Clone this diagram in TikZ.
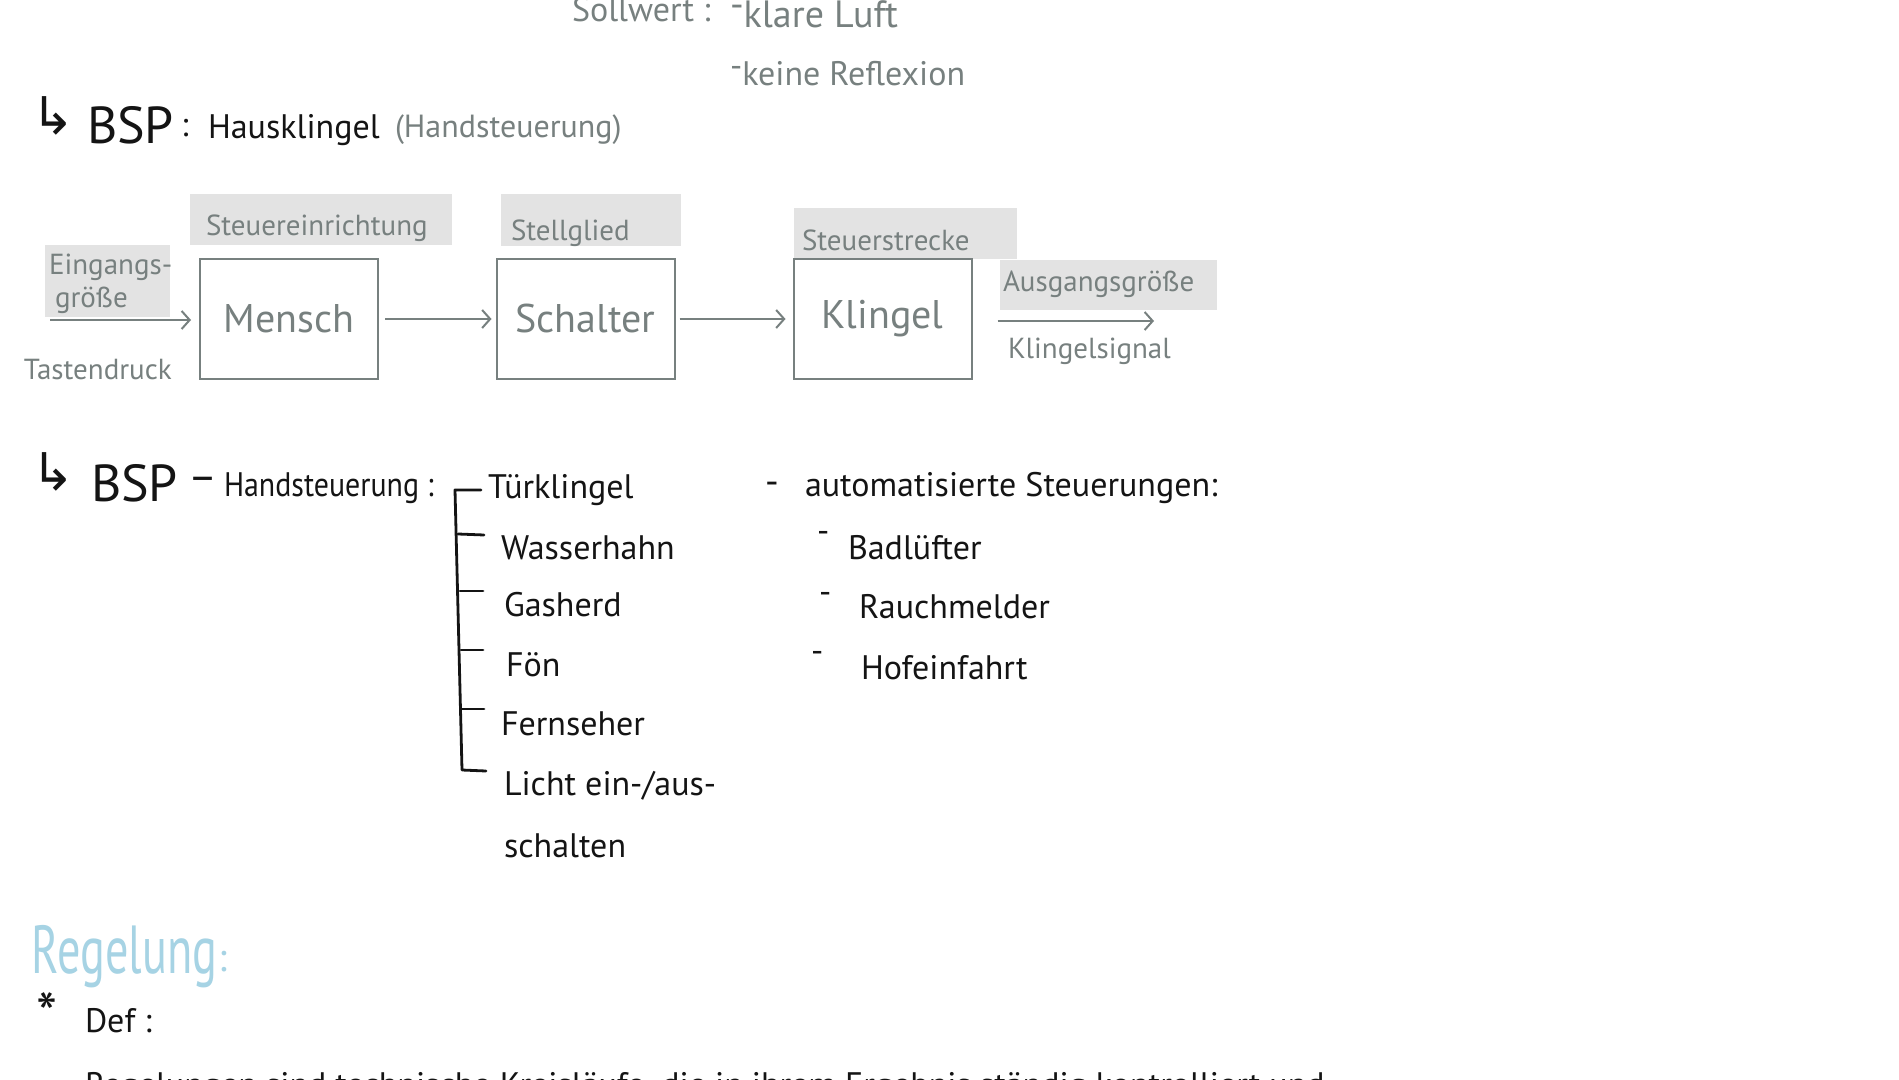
\documentclass[tikz,border=0pt]{standalone}
\usepackage{fontspec}
\setmainfont{PT Sans}
\newfontfamily\symfont{DejaVu Sans}
\usetikzlibrary{arrows.meta}
\definecolor{ink}{HTML}{141414}
\definecolor{pen}{HTML}{77807F}
\definecolor{hl}{HTML}{E3E3E3}
\definecolor{blueink}{HTML}{A6D3E4}
\newcommand{\fs}[1]{\fontsize{#1}{#1}\selectfont}
\begin{document}
\begin{tikzpicture}[x=0.5pt,y=-0.5pt,
  every node/.style={inner sep=0pt, outer sep=0pt},
  graytxt/.style={text=pen, font=\fs{14.5}, anchor=west},
  bigtxt/.style={text=ink, font=\fs{26}, anchor=west},
  blacktxt/.style={text=ink, font=\fs{17}, anchor=west},
  hand/.style={text=ink, font=\symfont\fs{26}, anchor=west},
  block/.style={draw=pen, line width=1pt, minimum width=89pt, minimum height=60pt, text=pen, font=\fs{20}},
  flow/.style={draw=pen, line width=1pt, -{Straight Barb[length=4pt,width=9pt,line width=1pt]}},
  hlfill/.style={fill=hl, draw=none},
  brack/.style={draw=ink, line width=1.4pt, line cap=round, line join=round}
]
\useasboundingbox (0,0) rectangle (1899,1080);
\clip (0,0) rectangle (1899,1080);
\fill[white] (0,0) rectangle (1899,1080);

% ---------- top (Sollwert) ----------
\node[text=pen, font=\fs{17}, anchor=west] (soll) at (572,10) {Sollwert :};
\node[text=pen, font=\fs{19}, anchor=west] (luft) at (730,14) {\raisebox{0.5ex}{-}klare Luft};
\node[text=pen, font=\fs{17}, anchor=west] (refl) at (730,74) {\raisebox{0.5ex}{-}keine Reflexion};

% ---------- BSP Hausklingel ----------
\node[hand] (arr1) at (32,116) {↳};
\node[bigtxt] (bsp1) at (87,125) {BSP};
\node[blacktxt] (col1) at (181,128) {:};
\node[text=ink, font=\fs{17}, anchor=west] (haus) at (208,130) {Hausklingel};
\node[text=pen, font=\fs{16}, anchor=west] (hand1) at (395,130) {(Handsteuerung)};

% highlights
\fill[hlfill] (190,194) rectangle (452,245);
\fill[hlfill] (501,194) rectangle (681,246);
\fill[hlfill] (794,208) rectangle (1017,259);
\fill[hlfill] (45,245) rectangle (170,317);
\fill[hlfill] (1000,260) rectangle (1217,310);

\node[graytxt] (stein) at (206,228) {Steuereinrichtung};
\node[graytxt] (stell) at (511,233) {Stellglied};
\node[graytxt] (strecke) at (802,240) {Steuerstrecke};
\node[graytxt, align=left] (ein) at (49,284) {Eingangs-\\[2pt]\hspace*{3pt}größe};
\node[graytxt] (aus) at (1003,284) {Ausgangsgröße};
\node[graytxt] (taste) at (24,370) {Tastendruck};
\node[graytxt] (ksig) at (1008,351) {Klingelsignal};

\node[block] (mensch) at (289,319) {Mensch};
\node[block] (schalter) at (585.5,319) {Schalter};
\node[block] (klingel) at (882.5,319) {Klingel};

\coordinate (inp) at (50,320);
\coordinate (outp) at (1154,321);
\draw[flow, shorten >=4.5pt] (inp) -- (mensch.west |- inp);
\draw[flow, shorten <=3.5pt, shorten >=2.5pt] (mensch.east) -- (schalter.west);
\draw[flow, shorten <=2.5pt, shorten >=4pt] (schalter.east) -- (klingel.west);
\draw[flow, shorten <=13pt] (klingel.east |- outp) -- (outp);

% ---------- BSP Handsteuerung ----------
\node[hand] (arr2) at (32,472) {↳};
\node[bigtxt] (bsp2) at (91,483) {BSP};
\node[text=ink, font=\fs{22}, anchor=west] (dash2) at (188,484) {–};
\node[blacktxt] (hst) at (224,488) {\scalebox{0.88}[1]{Handsteuerung :}};

\node[blacktxt] (i1) at (488,490) {Türklingel};
\node[blacktxt] (i2) at (501,548) {Wasserhahn};
\node[blacktxt] (i3) at (504,605) {Gasherd};
\node[blacktxt] (i4) at (506,665) {Fön};
\node[blacktxt] (i5) at (501,724) {Fernseher};
\node[blacktxt] (i6) at (504,786) {Licht ein-/aus-};
\node[blacktxt] (i7) at (504,846) {schalten};

\draw[brack] (481,490) -- (455,490) -- (462,770) -- (486,771);
\draw[brack] (458,534) -- (484,535);
\draw[brack] (460,591) -- (483,591);
\draw[brack] (461,650) -- (483,650);
\draw[brack] (461,709) -- (484,709);

\node[text=ink, font=\fs{19}, anchor=west] (d0) at (765,488) {-};
\node[blacktxt] (auto) at (805,488) {automatisierte Steuerungen:};
\node[blacktxt] (d1) at (817,537) {-};
\node[blacktxt] (b1) at (848,548) {Badlüfter};
\node[blacktxt] (d2) at (819,598) {-};
\node[blacktxt] (b2) at (859,607) {Rauchmelder};
\node[blacktxt] (d3) at (811,657) {-};
\node[blacktxt] (b3) at (861,668) {Hofeinfahrt};

% ---------- Regelung ----------
\node[text=blueink, font=\fs{34}, anchor=west] (reg) at (32,957) {\scalebox{0.68}[1]{Regelung}};
\node[text=blueink, font=\fs{20}, anchor=west] (regc) at (218,962) {:};
\node[text=ink, font=\fs{30}, anchor=west] (star) at (36,1014) {*};
\node[blacktxt] (def) at (85,1021) {Def :};
\node[text=ink, font=\fs{17}, anchor=base west] (satz) at (85,1096) {Regelungen sind technische Kreisläufe, die in ihrem Ergebnis ständig kontrolliert und};
\end{tikzpicture}
\end{document}
